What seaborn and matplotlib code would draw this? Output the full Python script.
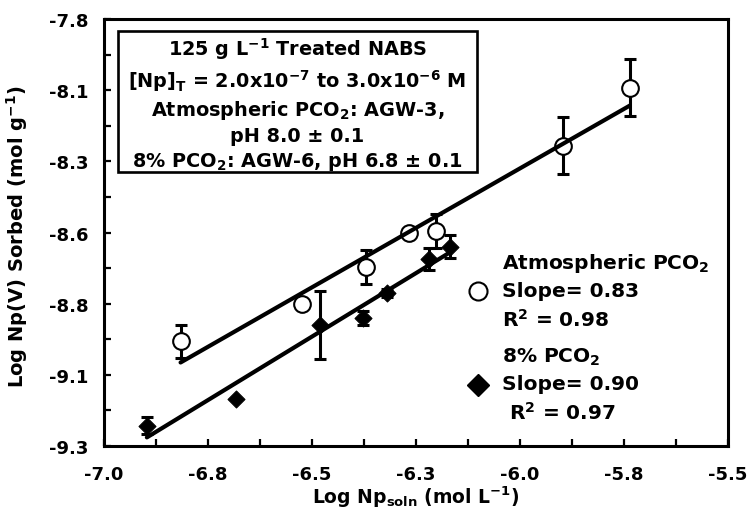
import numpy as np
import seaborn as sns
import matplotlib.pyplot as plt
from matplotlib.lines import Line2D
from matplotlib.patches import Rectangle
from matplotlib.ticker import AutoMinorLocator

# Atmospheric PCO2 (open circles)
atm_x = [-6.816, -6.525, -6.370, -6.267, -6.202, -5.897, -5.736]
atm_y = [-8.932, -8.801, -8.672, -8.552, -8.544, -8.245, -8.042]
atm_err = [0.058, np.nan, 0.06, np.nan, 0.06, 0.10, 0.10]

# 8% PCO2 (filled diamonds)
hi_x = [-6.897, -6.683, -6.482, -6.377, -6.320, -6.220, -6.168]
hi_y = [-9.228, -9.135, -8.874, -8.851, -8.763, -8.643, -8.600]
hi_err = [0.03, np.nan, 0.12, 0.025, 0.015, 0.04, 0.04]

x_ticks = [-7.0, -6.75, -6.5, -6.25, -6.0, -5.75, -5.5]
x_tick_labels = ["-7.0", "-6.8", "-6.5", "-6.3", "-6.0", "-5.8", "-5.5"]
y_ticks = [-9.3, -9.05, -8.8, -8.55, -8.3, -8.05, -7.8]
y_tick_labels = ["-9.3", "-9.1", "-8.8", "-8.6", "-8.3", "-8.1", "-7.8"]

box_text = ("125 g L$^{-1}$ Treated NABS\n"
            "[Np]$_T$ = 2.0x10$^{-7}$ to 3.0x10$^{-6}$ M\n"
            "Atmospheric PCO$_2$: AGW-3,\n"
            "pH 8.0 \u00b1 0.1\n"
            "8% PCO$_2$: AGW-6, pH 6.8 \u00b1 0.1")
legend_labels = ["Atmospheric PCO$_2$\nSlope= 0.83\nR$^2$ = 0.98",
                 "8% PCO$_2$\nSlope= 0.90\n R$^2$ = 0.97"]

sns.set_theme(style="ticks")
plt.rcParams["font.family"] = ["DejaVu Sans"]
plt.rcParams["font.weight"] = "bold"
plt.rcParams["text.color"] = "black"
plt.rcParams["axes.labelcolor"] = "black"
plt.rcParams["xtick.color"] = "black"
plt.rcParams["ytick.color"] = "black"
plt.rcParams["mathtext.fontset"] = "custom"
plt.rcParams["mathtext.rm"] = "DejaVu Sans:bold"
plt.rcParams["mathtext.it"] = "DejaVu Sans:bold"
plt.rcParams["mathtext.bf"] = "DejaVu Sans:bold"
plt.rcParams["mathtext.sf"] = "DejaVu Sans:bold"
plt.rcParams["mathtext.default"] = "rm"

fig = plt.figure(figsize=(7.5, 5.1), dpi=100)
ax = fig.add_axes([0.1387, 0.1235, 0.832, 0.8373])

# error bars first, markers over them, fit lines on top
ax.errorbar(atm_x, atm_y, yerr=atm_err, fmt="none", ecolor="black",
            elinewidth=2.2, capsize=4, capthick=2.2, zorder=2)
ax.errorbar(hi_x, hi_y, yerr=hi_err, fmt="none", ecolor="black",
            elinewidth=2.2, capsize=4, capthick=2.2, zorder=2)

sns.scatterplot(x=atm_x, y=atm_y, ax=ax, marker="o", s=12 ** 2,
                facecolor="white", edgecolor="black", linewidth=1.5, zorder=3)
sns.scatterplot(x=hi_x, y=hi_y, ax=ax, marker="D", s=8.7 ** 2,
                color="black", edgecolor="black", zorder=3)

for xs, ys in [(atm_x, atm_y), (hi_x, hi_y)]:
    sns.regplot(x=np.array(xs), y=np.array(ys), ax=ax, scatter=False, ci=None,
                truncate=True, line_kws={"color": "black", "lw": 3, "zorder": 4})

ax.set_xlim(-7.0, -5.5)
ax.set_ylim(-9.3, -7.8)
ax.set_xticks(x_ticks)
ax.set_xticklabels(x_tick_labels)
ax.set_yticks(y_ticks)
ax.set_yticklabels(y_tick_labels)
ax.xaxis.set_minor_locator(AutoMinorLocator(2))
ax.yaxis.set_minor_locator(AutoMinorLocator(2))
ax.tick_params(which="both", direction="in", length=5, width=1.6,
               top=False, right=False, labelsize=13, color="black")
ax.tick_params(axis="x", pad=14)
ax.tick_params(axis="y", pad=11)
for lab in ax.get_xticklabels() + ax.get_yticklabels():
    lab.set_fontweight("bold")
for sp in ax.spines.values():
    sp.set_visible(True)
    sp.set_linewidth(2.2)
    sp.set_color("black")

ax.set_xlabel("Log Np$_{soln}$ (mol L$^{-1}$)", fontsize=13.5, fontweight="bold")
ax.set_ylabel("Log Np(V) Sorbed (mol g$^{-1}$)", fontsize=14, fontweight="bold")
ax.xaxis.set_label_coords(0.5, -0.087)
ax.yaxis.set_label_coords(-0.118, 0.492)

# info box
ax.add_patch(Rectangle((0.0224, 0.6417), 0.5754, 0.3302, transform=ax.transAxes,
                       facecolor="white", edgecolor="black", linewidth=1.9,
                       zorder=5))
ax.text(0.31, 0.802, box_text, transform=ax.transAxes, ha="center", va="center",
        multialignment="center", fontsize=13.9, fontweight="bold",
        linespacing=1.3, zorder=6)

handles = [
    Line2D([], [], marker="o", linestyle="none", markerfacecolor="white",
           markeredgecolor="black", markeredgewidth=1.5, markersize=13),
    Line2D([], [], marker="D", linestyle="none", color="black", markersize=11),
]
leg = ax.legend(handles, legend_labels, loc="upper left",
                bbox_to_anchor=(0.58, 0.457), borderaxespad=0, borderpad=0,
                frameon=False, fontsize=14.5, handlelength=1.2,
                handletextpad=0.6, labelspacing=0.8)
for t in leg.get_texts():
    t.set_fontweight("bold")
    t.set_linespacing(1.45)

fig.savefig("out.png", dpi=100)
